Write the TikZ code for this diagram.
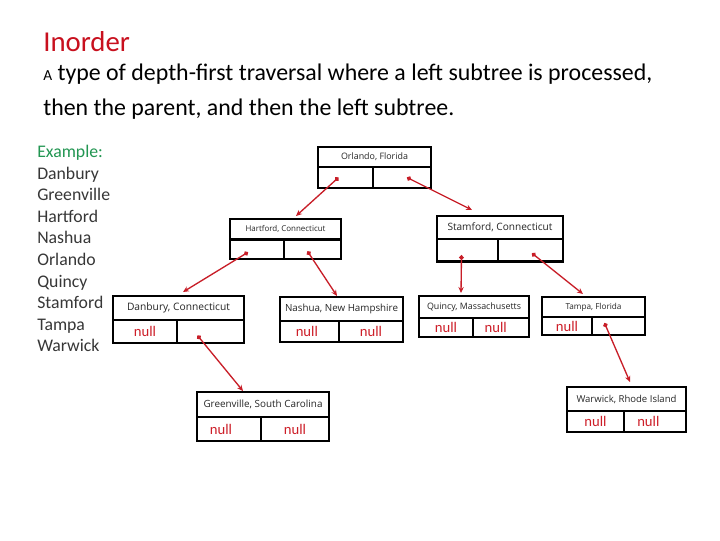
\documentclass[tikz,border=0pt]{standalone}
\usepackage{fontspec}
\setmainfont{Carlito}
\newfontfamily\lblfont{Open Sans}
\usepackage{graphicx}
\usetikzlibrary{arrows.meta}
\definecolor{titlered}{RGB}{200,16,30}
\definecolor{linkred}{RGB}{200,30,40}
\definecolor{nullred}{RGB}{205,30,40}
\definecolor{exgreen}{RGB}{34,150,82}
\definecolor{listgray}{RGB}{55,55,55}
% #1 name, #2 left, #3 top, #4 right, #5 divider y, #6 bottom, #7 divider x, #8 label, #9 label width (pt)
\newcommand\recbox[9]{%
  \node[toprow, minimum width={(#4-#2)*0.75pt}, minimum height={(#5-#3)*0.75pt}] (#1) at (#2,#3) {\resizebox{#9pt}{!}{\lblfont #8}};
  \node[cell, minimum width={(#7-#2)*0.75pt}, minimum height={(#6-#5)*0.75pt}] (#1L) at (#2,#5) {};
  \node[cell, minimum width={(#4-#7)*0.75pt}, minimum height={(#6-#5)*0.75pt}] (#1R) at (#7,#5) {};
}
\begin{document}
\begin{tikzpicture}[x=0.75pt,y=-0.75pt,
  toprow/.style={draw, line width=1.7pt, inner sep=0pt, outer sep=0pt, anchor=north west, text=black!85},
  cell/.style={draw, line width=1.7pt, inner sep=0pt, outer sep=0pt, anchor=north west},
  nulltxt/.style={text=nullred, font=\fontsize{11}{13}\selectfont, inner sep=0pt},
  link/.style={draw=linkred, line width=1pt, {Circle[length=3.4pt]}-{Stealth[length=4.5pt,width=4pt]}},
  listtxt/.style={anchor=base west, inner sep=0pt, font=\fontsize{13.3}{16}\selectfont, text=listgray}
]
\fill[white] (0,0) rectangle (720,540);
\useasboundingbox (0,0) rectangle (720,540);

% heading text
\node[anchor=base west, inner sep=0pt, text=titlered, font=\fontsize{21.6}{26}\selectfont] (title) at (43,51.7) {Inorder};
\node[anchor=base west, inner sep=0pt, font=\fontsize{17.9}{21}\selectfont] (line1) at (43,80) {{\fontsize{11.5}{13}\selectfont A} type of depth-first traversal where a left subtree is processed,};
\node[anchor=base west, inner sep=0pt, font=\fontsize{17.9}{21}\selectfont] (line2) at (43,115.7) {then the parent, and then the left subtree.};

% example list
\node[listtxt, text=exgreen] (ex0) at (37,157.4) {Example:};
\foreach \t [count=\i] in {Danbury,Greenville,Hartford,Nashua,Orlando,Quincy,Stamford,Tampa,Warwick}
  \node[listtxt] (ex\i) at (37,{179+21.6*(\i-1)}) {\t};

% tree boxes
\recbox{orl}{318}{147}{431}{167}{188}{373}{Orlando, Florida}{50.25}
\recbox{har}{230}{219}{341}{239.5}{259}{284}{Hartford, Connecticut}{60}
\recbox{sta}{437}{216}{563}{239}{261.5}{498}{Stamford, Connecticut}{78.75}
\recbox{dan}{113}{296}{244}{320}{343}{177}{Danbury, Connecticut}{77.25}
\recbox{nas}{280}{297}{403}{321}{342}{339}{Nashua, New Hampshire}{84.75}
\recbox{gre}{197}{392}{329}{417}{441}{261}{Greenville, South Carolina}{89.25}
\recbox{qui}{419}{296}{529}{318}{337}{473}{Quincy, Massachusetts}{70.5}
\recbox{tam}{542}{297}{645}{317}{335}{592}{Tampa, Florida}{42}
\recbox{war}{567}{387}{686}{411}{432}{624}{Warwick, Rhode Island}{75}

% null entries
\node[nulltxt] (danLnull) at (danL) {null};
\node[nulltxt] (nasLnull) at ([xshift=-2]nasL.center) {null};
\node[nulltxt] (nasRnull) at (nasR) {null};
\node[nulltxt] (greLnull) at ([xshift=-6]greL.center) {null};
\node[nulltxt] (greRnull) at (greR) {null};
\node[nulltxt] (quiLnull) at (quiL) {null};
\node[nulltxt] (quiRnull) at ([xshift=-4]quiR.center) {null};
\node[nulltxt] (tamLnull) at (tamL) {null};
\node[nulltxt] (warLnull) at (warL) {null};
\node[nulltxt] (warRnull) at ([xshift=-5]warR.center) {null};

% links
\draw[link] ([shift={(-7,0)}]orlL.center) -- ([shift={(10.5,-3)}]har.north);
\draw[link] ([shift={(5,0)}]orlR.center) -- ([shift={(-28,-6)}]sta.north);
\draw[link] ([shift={(-9,3)}]harL.center) -- ([shift={(4.5,-4)}]dan.north);
\draw[link] ([shift={(-5,2)}]harR.center) -- ([shift={(-4.5,-1)}]nas.north);
\draw[link] ([shift={(-6,5)}]staL.center) -- ([shift={(-13,-3)}]qui.north);
\draw[link] ([shift={(1.5,3)}]staR.center) -- ([shift={(-10.5,-3)}]tam.north);
\draw[link] ([shift={(-13,4)}]danR.center) -- ([shift={(-20,-1)}]gre.north);
\draw[link] ([shift={(-14,-3)}]tamR.center) -- ([shift={(3.5,-5)}]war.north);
\end{tikzpicture}
\end{document}
